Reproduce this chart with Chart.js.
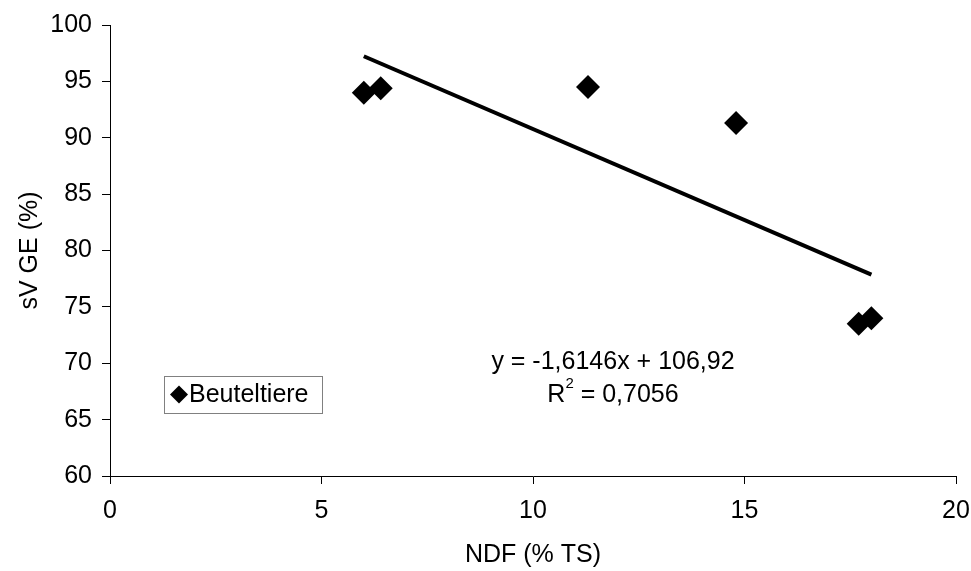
<!DOCTYPE html>
<html>
<head>
<meta charset="utf-8">
<script src="https://cdn.jsdelivr.net/npm/chart.js@4"></script>
<style>
  body { margin: 0; background: #fff; }
</style>
</head>
<body>
<canvas id="chart" width="971" height="571"></canvas>
<script>
// Beuteltiere: NDF (% TS) vs. sV GE (%)
const ndfValues = [6.0, 6.4, 11.3, 14.8, 17.7, 18.0];
const svgeValues = [94.0, 94.4, 94.5, 91.3, 73.5, 74.0];

// linear trend line, ends as drawn
const trendX = [6.0, 18.0];
const trendY = [97.23, 77.86];

const xTicks = [0, 5, 10, 15, 20];
const yTicks = [60, 65, 70, 75, 80, 85, 90, 95, 100];

const seriesName = "Beuteltiere";
const equationText = "y = -1,6146x + 106,92";
const r2Text = "0,7056";

const FONT = "'Liberation Sans', Arial, sans-serif";
const FS = 25;

const overlay = {
    id: "overlay",
    afterDraw(chart) {
        const ctx = chart.ctx;
        const a = chart.chartArea;
        ctx.save();

        // legend box
        const lx = a.left + 54, ly = a.top + 351, lw = 158, lh = 37;
        ctx.fillStyle = "#fff";
        ctx.fillRect(lx, ly, lw, lh);
        ctx.strokeStyle = "#808080";
        ctx.lineWidth = 1;
        ctx.strokeRect(lx + 0.5, ly + 0.5, lw, lh);
        const mx = lx + 15, my = ly + lh / 2;
        ctx.fillStyle = "#000";
        ctx.beginPath();
        ctx.moveTo(mx - 9, my);
        ctx.lineTo(mx, my - 9);
        ctx.lineTo(mx + 9, my);
        ctx.lineTo(mx, my + 9);
        ctx.closePath();
        ctx.fill();
        ctx.font = FS + "px " + FONT;
        ctx.textBaseline = "middle";
        ctx.textAlign = "left";
        ctx.fillText(seriesName, mx + 10, my + 1);

        // equation and R²
        const cx = a.left + 503;
        ctx.textAlign = "center";
        ctx.fillText(equationText, cx, a.top + 337);
        const left = "R", right = " = " + r2Text;
        ctx.font = FS + "px " + FONT;
        const wL = ctx.measureText(left).width;
        const wR = ctx.measureText(right).width;
        ctx.font = "15px " + FONT;
        const wS = ctx.measureText("2").width;
        let sx = cx - (wL + wS + wR) / 2;
        const sy = a.top + 370;
        ctx.textAlign = "left";
        ctx.font = FS + "px " + FONT;
        ctx.fillText(left, sx, sy);
        ctx.font = "15px " + FONT;
        ctx.fillText("2", sx + wL, sy - 11);
        ctx.font = FS + "px " + FONT;
        ctx.fillText(right, sx + wL + wS, sy);

        ctx.restore();
    }
};

const ctx = document.getElementById("chart").getContext("2d");
new Chart(ctx, {
    type: "scatter",
    data: {
        datasets: [
            {
                label: seriesName,
                data: ndfValues.map((x, i) => ({ x: x, y: svgeValues[i] })),
                pointStyle: "rectRot",
                pointRadius: 12,
                pointHoverRadius: 12,
                backgroundColor: "#000",
                borderColor: "#000",
                borderWidth: 0
            },
            {
                label: "Trend",
                data: trendX.map((x, i) => ({ x: x, y: trendY[i] })),
                showLine: true,
                pointRadius: 0,
                borderColor: "#000",
                borderWidth: 4,
                fill: false
            }
        ]
    },
    options: {
        responsive: false,
        animation: false,
        layout: { padding: { top: 21, right: 0, left: 0, bottom: 0 } },
        plugins: {
            legend: { display: false },
            tooltip: { enabled: false }
        },
        scales: {
            x: {
                type: "linear",
                min: 0,
                max: 20,
                afterBuildTicks: (s) => { s.ticks = xTicks.map(v => ({ value: v })); },
                afterFit: (s) => { s.height = 95; s.paddingLeft = 0; s.paddingRight = 15; },
                grid: { drawOnChartArea: false, drawTicks: true, tickLength: 8, color: "#000" },
                border: { display: true, color: "#000", width: 1 },
                ticks: { color: "#000", font: { family: FONT, size: FS }, padding: 12, maxRotation: 0 },
                title: {
                    display: true,
                    text: "NDF (% TS)",
                    color: "#000",
                    font: { family: FONT, size: FS },
                    padding: { top: 0, bottom: 1 }
                }
            },
            y: {
                type: "linear",
                min: 60,
                max: 100,
                afterBuildTicks: (s) => { s.ticks = yTicks.map(v => ({ value: v })); },
                afterFit: (s) => { s.width = 110; },
                grid: { drawOnChartArea: false, drawTicks: true, tickLength: 8, color: "#000" },
                border: { display: true, color: "#000", width: 1 },
                ticks: { color: "#000", font: { family: FONT, size: FS }, padding: 10 },
                title: {
                    display: true,
                    text: "sV GE (%)",
                    color: "#000",
                    font: { family: FONT, size: FS },
                    padding: { top: 15, bottom: 0 }
                }
            }
        }
    },
    plugins: [overlay]
});
</script>
</body>
</html>
